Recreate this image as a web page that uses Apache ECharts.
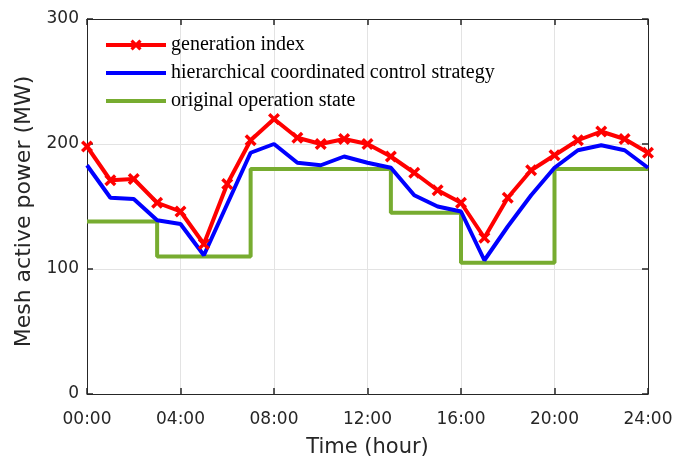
<!DOCTYPE html>
<html>
<head>
<meta charset="utf-8">
<script src="https://cdn.jsdelivr.net/npm/echarts@6/dist/echarts.min.js"></script>
<style>
  html, body { margin: 0; padding: 0; background: #fff; }
  #chart { width: 673px; height: 458px; }
</style>
</head>
<body>
<div id="chart"></div>
<script>
  // hourly values, 00:00 .. 24:00
  const hours = [0,1,2,3,4,5,6,7,8,9,10,11,12,13,14,15,16,17,18,19,20,21,22,23,24];
  const generationIndex = [198,171,172,153,146,120,168,203,220,205,200,204,200,190,177,163,153,125,157,179,191,203,210,204,193];
  const hierarchical = [183,157,156,139,136,111,152,193,200,185,183,190,185,181,159,150,146,107,134,159,181,195,199,195,181];
  // original operation state: level held from each breakpoint to the next
  const originalHours = [0,3,7,13,16,20,24];
  const originalLevels = [138,110,180,145,105,180,180];
  const timeLabels = ['00:00','04:00','08:00','12:00','16:00','20:00','24:00'];

  const names = ['generation index', 'hierarchical coordinated control strategy', 'original operation state'];
  const axisColor = '#262626';
  const sans = 'DejaVu Sans, Arial';
  const tickFont = { fontFamily: sans, fontSize: 17, color: '#262626' };
  const crossMark = 'path://M2,0 L5,3 L8,0 L10,2 L7,5 L10,8 L8,10 L5,7 L2,10 L0,8 L3,5 L0,2 Z';
  const barIcon = 'path://M0,0 L60,0 L60,4 L0,4 Z';

  function frameAxis(extra) {
    return Object.assign({
      axisLine: { show: true, onZero: false, lineStyle: { color: axisColor, width: 1 } },
      axisTick: { show: true, inside: true, length: 6, lineStyle: { color: axisColor, width: 1.5 } }
    }, extra);
  }

  let chart = echarts.init(document.getElementById('chart'));
  let option = {
    animation: false,
    grid: { left: 87, right: 25, top: 19, bottom: 64, outerBoundsMode: 'none', containLabel: false },
    legend: {
      orient: 'vertical',
      left: 99,
      top: 29,
      itemWidth: 60,
      itemHeight: 14,
      itemGap: 6,
      data: [
        { name: names[0], icon: 'inherit', lineStyle: { width: 4 } },
        { name: names[1], icon: barIcon },
        { name: names[2], icon: barIcon }
      ],
      textStyle: { fontFamily: 'Liberation Serif, Times New Roman', fontSize: 20, color: '#000', lineHeight: 22 }
    },
    xAxis: [
      frameAxis({
        type: 'value', min: 0, max: 24, interval: 4,
        name: 'Time (hour)', nameLocation: 'middle', nameGap: 43,
        nameTextStyle: { fontFamily: sans, fontSize: 21, color: '#262626' },
        axisLabel: Object.assign({ margin: 17, formatter: v => timeLabels[v / 4] }, tickFont),
        splitLine: { show: true, lineStyle: { color: '#e3e3e3', width: 1 } }
      }),
      frameAxis({
        type: 'value', min: 0, max: 24, interval: 4, position: 'top',
        axisLabel: { show: false }, splitLine: { show: false }
      })
    ],
    yAxis: [
      frameAxis({
        type: 'value', min: 0, max: 300, interval: 100,
        name: 'Mesh active power (MW)', nameLocation: 'middle', nameGap: 50,
        nameTextStyle: { fontFamily: sans, fontSize: 22, color: '#262626', padding: [0, 10, 0, 0] },
        axisLabel: Object.assign({ margin: 8 }, tickFont),
        splitLine: { show: true, lineStyle: { color: '#e3e3e3', width: 1 } }
      }),
      frameAxis({
        type: 'value', min: 0, max: 300, interval: 100, position: 'right',
        axisLabel: { show: false }, splitLine: { show: false }
      })
    ],
    series: [
      {
        name: names[0], type: 'line', z: 5,
        data: hours.map((h, i) => [h, generationIndex[i]]),
        color: '#ff0000',
        lineStyle: { width: 4, color: '#ff0000' },
        symbol: crossMark,
        symbolSize: 12,
        itemStyle: { color: '#ff0000', borderWidth: 0 }
      },
      {
        name: names[1], type: 'line', z: 4,
        data: hours.map((h, i) => [h, hierarchical[i]]),
        color: '#0000ff',
        lineStyle: { width: 4, color: '#0000ff' },
        symbol: 'none'
      },
      {
        name: names[2], type: 'line', z: 3, step: 'end',
        data: originalHours.map((h, i) => [h, originalLevels[i]]),
        color: '#77ac30',
        lineStyle: { width: 4, color: '#77ac30' },
        symbol: 'none'
      }
    ]
  };
  chart.setOption(option);
</script>
</body>
</html>
